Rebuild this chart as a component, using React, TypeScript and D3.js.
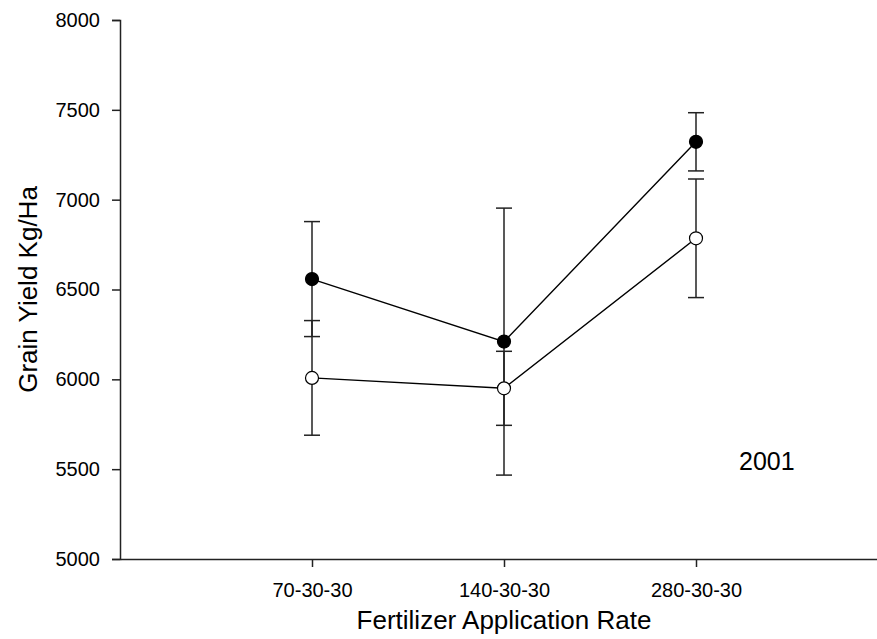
import React, { useRef, useEffect } from 'react';
import * as d3 from 'd3';

// Data
const categories = ['70-30-30', '140-30-30', '280-30-30'];
const filledMean = [6558, 6210, 7322];
const filledErr = [320, 743, 162];
const openMean = [6008, 5950, 6785];
const openErr = [319, 206, 330];
const yTicks = [5000, 5500, 6000, 6500, 7000, 7500, 8000];

const W = 877;
const H = 639;
const FONT = '"Liberation Sans", Arial, sans-serif';

const App = () => {
  const svgRef = useRef<SVGSVGElement>(null);

  useEffect(() => {
    const svg = d3.select(svgRef.current);
    svg.selectAll('*').remove();

    // scales: categories sit at 1, 2, 3 on a 0..4 axis
    const x = d3.scaleLinear().domain([0, 4]).range([120, 888]);
    const y = d3.scaleLinear().domain([5000, 8000]).range([559, 20]);

    // y axis
    const yAxis = d3.axisLeft(y).tickValues(yTicks).tickSize(8).tickPadding(12)
      .tickFormat(d3.format('d'));
    const gy = svg.append('g').attr('transform', 'translate(120,0)').call(yAxis);
    gy.select('.domain').attr('stroke', '#222').attr('stroke-width', 1.5);
    gy.selectAll('.tick line').attr('stroke', '#222').attr('stroke-width', 1.5);
    gy.selectAll('.tick text').attr('font-family', FONT).attr('font-size', 20).attr('fill', '#000');

    // x axis
    const xAxis = d3.axisBottom(x).tickValues([1, 2, 3]).tickSize(8).tickPadding(16)
      .tickSizeOuter(0)
      .tickFormat((d) => categories[(d as number) - 1]);
    const gx = svg.append('g').attr('transform', 'translate(0,559)').call(xAxis);
    gx.select('.domain').attr('stroke', '#222').attr('stroke-width', 1.5);
    gx.selectAll('.tick line').attr('stroke', '#222').attr('stroke-width', 1.5);
    gx.selectAll('.tick text').attr('font-family', FONT).attr('font-size', 20).attr('fill', '#000');

    // axis titles
    svg.append('text')
      .attr('x', x(2)).attr('y', 629)
      .attr('text-anchor', 'middle')
      .attr('font-family', FONT).attr('font-size', 26)
      .text('Fertilizer Application Rate');

    svg.append('text')
      .attr('transform', `translate(37,${(y(5000) + y(8000)) / 2}) rotate(-90)`)
      .attr('text-anchor', 'middle')
      .attr('font-family', FONT).attr('font-size', 26)
      .text('Grain Yield Kg/Ha');

    svg.append('text')
      .attr('x', 739).attr('y', 470)
      .attr('font-family', FONT).attr('font-size', 25)
      .text('2001');

    const series = [
      { mean: filledMean, err: filledErr, fill: '#000' },
      { mean: openMean, err: openErr, fill: '#fff' },
    ];

    const line = d3.line<number>()
      .x((d, i) => x(i + 1))
      .y((d) => y(d));

    // connecting lines
    series.forEach((s) => {
      svg.append('path')
        .datum(s.mean)
        .attr('d', line)
        .attr('fill', 'none')
        .attr('stroke', '#000')
        .attr('stroke-width', 1.4);
    });

    // error bars
    series.forEach((s) => {
      const g = svg.append('g').attr('stroke', '#222').attr('stroke-width', 1.5);
      s.mean.forEach((m, i) => {
        const cx = x(i + 1);
        const top = y(m + s.err[i]);
        const bot = y(m - s.err[i]);
        g.append('line').attr('x1', cx).attr('x2', cx).attr('y1', top).attr('y2', bot);
        g.append('line').attr('x1', cx - 8).attr('x2', cx + 8).attr('y1', top).attr('y2', top);
        g.append('line').attr('x1', cx - 8).attr('x2', cx + 8).attr('y1', bot).attr('y2', bot);
      });
    });

    // markers
    series.forEach((s) => {
      svg.append('g')
        .selectAll('circle')
        .data(s.mean)
        .enter()
        .append('circle')
        .attr('cx', (d, i) => x(i + 1))
        .attr('cy', (d) => y(d))
        .attr('r', 6.5)
        .attr('fill', s.fill)
        .attr('stroke', '#000')
        .attr('stroke-width', 1.2);
    });
  }, []);

  return (
    <svg
      ref={svgRef}
      width={W}
      height={H}
      style={{ position: 'absolute', left: 0, top: 0, background: '#fff', overflow: 'hidden' }}
    />
  );
};

export default App;
